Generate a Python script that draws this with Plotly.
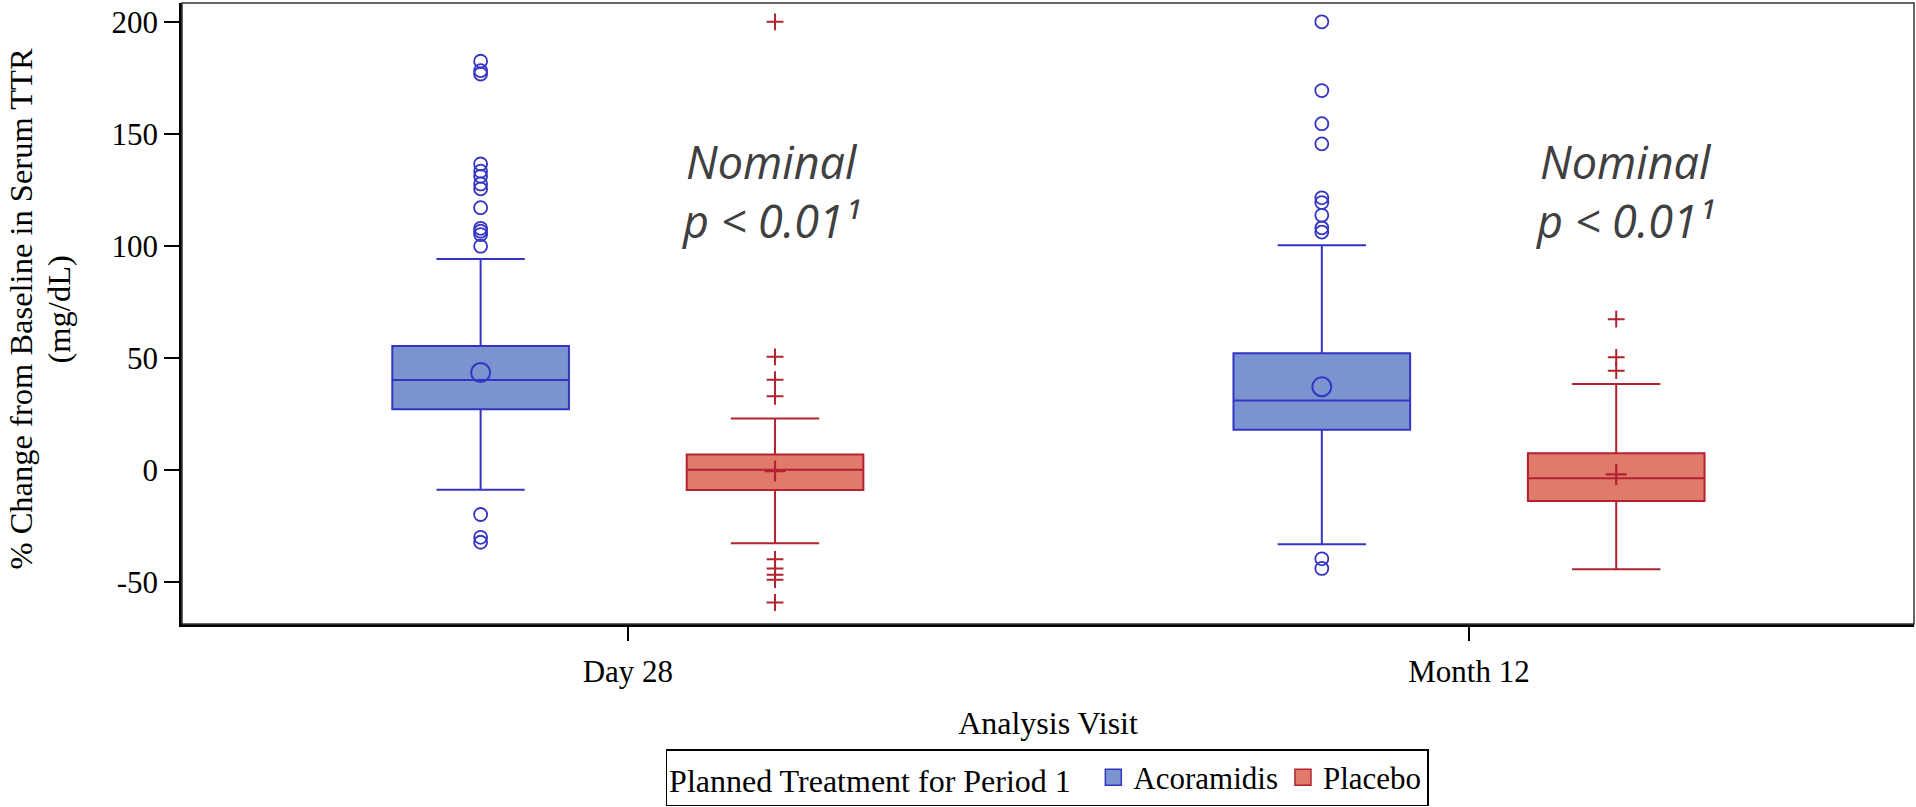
import plotly.graph_objects as go

# ---------------- data ----------------
VISITS = ["Day 28", "Month 12"]

ACOR_Q1 = [27.0, 17.8]
ACOR_MEDIAN = [40.0, 30.9]
ACOR_Q3 = [55.2, 52.0]
ACOR_LOWER = [-8.9, -33.3]
ACOR_UPPER = [94.1, 100.2]
ACOR_MEAN = [43.4, 37.0]
ACOR_OUT_DAY28 = [182.4, 178.2, 176.7, 136.5, 133.3, 131.0, 127.6, 125.4,
                  117.0, 107.8, 106.5, 105.0, 99.8, -20.0, -30.2, -32.4]
ACOR_OUT_M12 = [200.0, 169.3, 154.5, 145.5, 121.4, 119.3, 113.6, 108.0,
                106.1, -39.8, -44.1]

PLAC_Q1 = [-9.1, -14.0]
PLAC_MEDIAN = [0.0, -3.8]
PLAC_Q3 = [6.8, 7.3]
PLAC_LOWER = [-32.8, -44.4]
PLAC_UPPER = [22.9, 38.3]
PLAC_MEAN = [-0.6, -2.1]
PLAC_OUT_DAY28 = [200.0, 50.4, 40.2, 32.8, -40.0, -44.1, -46.9, -49.1, -59.3]
PLAC_OUT_M12 = [67.2, 50.2, 44.2]

Y_TICK_VALUES = [-50, 0, 50, 100, 150, 200]
Y_TICK_LABELS = ["-50", "0", "50", "100", "150", "200"]

Y_TITLE_LINE1 = "% Change from Baseline in Serum TTR"
Y_TITLE_LINE2 = "(mg/dL)"
X_TITLE = "Analysis Visit"
LEGEND_TITLE = "Planned Treatment for Period 1"
P_TEXT = "Nominal<br>p &lt; 0.01\u00b9"

# ---------------- styles ----------------
ACOR_LINE = "#3434c4"
ACOR_FILL = "#7b94cf"
PLAC_LINE = "#b3222f"
PLAC_FILL = "#e07b6c"
SERIF = "Liberation Serif, Times New Roman, serif"

fig = go.Figure()

fig.add_trace(go.Box(
    name="Acoramidis", x=VISITS, q1=ACOR_Q1, median=ACOR_MEDIAN, q3=ACOR_Q3,
    lowerfence=ACOR_LOWER, upperfence=ACOR_UPPER,
    fillcolor=ACOR_FILL, line=dict(color=ACOR_LINE, width=2),
    whiskerwidth=0.5, boxpoints=False, showlegend=False, legendgroup="A",
    offsetgroup="A", alignmentgroup="g"))
fig.add_trace(go.Box(
    name="Placebo", x=VISITS, q1=PLAC_Q1, median=PLAC_MEDIAN, q3=PLAC_Q3,
    lowerfence=PLAC_LOWER, upperfence=PLAC_UPPER,
    fillcolor=PLAC_FILL, line=dict(color=PLAC_LINE, width=2),
    whiskerwidth=0.5, boxpoints=False, showlegend=False, legendgroup="P",
    offsetgroup="P", alignmentgroup="g"))

# outliers
fig.add_trace(go.Scatter(
    x=[VISITS[0]] * len(ACOR_OUT_DAY28) + [VISITS[1]] * len(ACOR_OUT_M12),
    y=ACOR_OUT_DAY28 + ACOR_OUT_M12, mode="markers",
    marker=dict(symbol="circle-open", size=13, color=ACOR_LINE,
                line=dict(width=1.8, color=ACOR_LINE)),
    offsetgroup="A", showlegend=False, legendgroup="A", name="Acoramidis"))
fig.add_trace(go.Scatter(
    x=[VISITS[0]] * len(PLAC_OUT_DAY28) + [VISITS[1]] * len(PLAC_OUT_M12),
    y=PLAC_OUT_DAY28 + PLAC_OUT_M12, mode="markers",
    marker=dict(symbol="cross-thin-open", size=12, color=PLAC_LINE,
                line=dict(width=2, color=PLAC_LINE)),
    offsetgroup="P", showlegend=False, legendgroup="P", name="Placebo"))
# means
fig.add_trace(go.Scatter(
    x=VISITS, y=ACOR_MEAN, mode="markers",
    marker=dict(symbol="circle-open", size=19, color=ACOR_LINE,
                line=dict(width=2, color=ACOR_LINE)),
    offsetgroup="A", showlegend=False, legendgroup="A", name="Acoramidis"))
fig.add_trace(go.Scatter(
    x=VISITS, y=PLAC_MEAN, mode="markers",
    marker=dict(symbol="cross-thin-open", size=15, color=PLAC_LINE,
                line=dict(width=2.2, color=PLAC_LINE)),
    offsetgroup="P", showlegend=False, legendgroup="P", name="Placebo"))

# legend entries
fig.add_trace(go.Scatter(
    x=[None], y=[None], mode="markers", name="Acoramidis", legendgroup="A",
    offsetgroup="A",
    marker=dict(symbol="square", size=16, color=ACOR_FILL,
                line=dict(width=1.5, color=ACOR_LINE))))
fig.add_trace(go.Scatter(
    x=[None], y=[None], mode="markers", name="Placebo", legendgroup="P",
    offsetgroup="P",
    marker=dict(symbol="square", size=16, color=PLAC_FILL,
                line=dict(width=1.5, color=PLAC_LINE))))

ann_font = dict(family="Open Sans, sans-serif", size=45, color="#404040",
                style="italic")
for xpos in (0.170, 1.185):
    fig.add_annotation(x=xpos, y=124.6, xref="x", yref="y", text=P_TEXT,
                       showarrow=False, font=ann_font, xanchor="center",
                       yanchor="middle", align="center")

# y-axis title as two rotated lines
title_font = dict(family=SERIF, size=32.5, color="black")
fig.add_annotation(text=Y_TITLE_LINE1, xref="paper", yref="paper", x=0, y=0.5,
                   xanchor="center", yanchor="middle", xshift=-162, yshift=4,
                   textangle=-90, showarrow=False, font=title_font)
fig.add_annotation(text=Y_TITLE_LINE2, xref="paper", yref="paper", x=0, y=0.5,
                   xanchor="center", yanchor="middle", xshift=-124, yshift=4,
                   textangle=-90, showarrow=False, font=title_font)

# frame (top / right thin lines)
fig.add_shape(type="rect", xref="paper", yref="paper", x0=0, x1=1, y0=0, y1=1,
              line=dict(color="#333333", width=1.5), layer="above")

fig.update_layout(
    width=1916, height=807,
    margin=dict(l=182, r=2, t=3, b=183, autoexpand=False),
    paper_bgcolor="white", plot_bgcolor="white",
    boxmode="group", boxgap=0.3, boxgroupgap=0.4,
    scattermode="group", scattergap=0.3,
    font=dict(family=SERIF, color="black", size=31),
    showlegend=True,
    legend=dict(
        orientation="h", xref="container", yref="container",
        x=0.5465, xanchor="center", y=0.001, yanchor="bottom",
        title=dict(text=LEGEND_TITLE + "  ",
                   font=dict(family=SERIF, size=32)),
        font=dict(family=SERIF, size=31, color="black"),
        bordercolor="black", borderwidth=1.5, bgcolor="white",
    ),
    xaxis=dict(
        type="category", categoryorder="array", categoryarray=VISITS,
        range=[-0.530, 1.529], showline=True, linecolor="black", linewidth=2.5,
        ticks="outside", ticklen=14, tickwidth=2, tickcolor="black",
        showgrid=False, zeroline=False, automargin=False,
        ticklabelstandoff=4,
        tickfont=dict(family=SERIF, size=31),
        title=dict(text=X_TITLE, font=dict(family=SERIF, size=32),
                   standoff=24),
    ),
    yaxis=dict(
        range=[-68.9, 208.4], showline=True, linecolor="black", linewidth=2.5,
        ticks="outside", ticklen=15, tickwidth=2, tickcolor="black",
        tickvals=Y_TICK_VALUES, ticktext=Y_TICK_LABELS,
        showgrid=False, zeroline=False, automargin=False,
        tickfont=dict(family=SERIF, size=31),
    ),
)

fig.write_html("out.html", config={"displayModeBar": False},
               post_script="document.body.style.margin='0';")
